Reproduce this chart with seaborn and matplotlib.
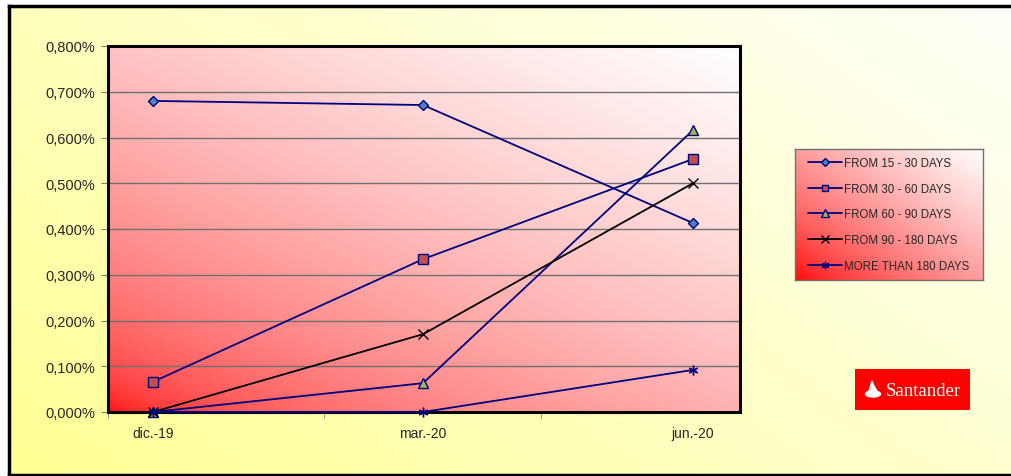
import numpy as np
import matplotlib
matplotlib.use("Agg")
import matplotlib.pyplot as plt
import seaborn as sns
from matplotlib.patches import Rectangle, Ellipse, Polygon
from matplotlib.ticker import FuncFormatter, FixedLocator

# data (in %)
periods = ["dic.-19", "mar.-20", "jun.-20"]
d15_30 = [0.680, 0.671, 0.413]
d30_60 = [0.066, 0.334, 0.553]
d60_90 = [0.000, 0.063, 0.616]
d90_180 = [0.000, 0.170, 0.500]
d180_plus = [0.000, 0.000, 0.092]
labels = ["FROM 15 - 30 DAYS", "FROM 30 - 60 DAYS", "FROM 60 - 90 DAYS",
          "FROM 90 - 180 DAYS", "MORE THAN 180 DAYS"]

sns.set_style("white")
plt.rcParams['font.family'] = ['Liberation Sans', 'DejaVu Sans']

W, H = 1011, 477
fig = plt.figure(figsize=(W / 100, H / 100), dpi=100, facecolor="white")

def fx(px):
    return px / W

def fy(py):
    return 1 - py / H

# outer yellow gradient panel
bg = fig.add_axes([fx(9), fy(476), 1 - fx(9), fy(7) - fy(476)])
gx, gy = np.meshgrid(np.linspace(0, 1, 300), np.linspace(0, 1, 200))
t = np.clip((gx * 0.6 + gy * 0.4), 0, 1)
yellow = np.dstack([np.ones_like(t), np.ones_like(t), 0.58 + 0.40 * t])
bg.imshow(yellow, extent=[0, 1, 0, 1], origin="lower", aspect="auto")
bg.set_xlim(0, 1)
bg.set_ylim(0, 1)
bg.set_xticks([])
bg.set_yticks([])
for s in bg.spines.values():
    s.set_linewidth(2.5)
    s.set_color("black")
bg.spines["right"].set_visible(False)

# main axes
ax = fig.add_axes([fx(108), fy(413), fx(740) - fx(108), fy(47) - fy(413)])
ax.set_xlim(-45 / 270, 2 + 47 / 270)
ax.set_ylim(0, 0.8)

# red-to-white diagonal gradient in plot area
t2 = np.clip((gx * 0.45 + gy * 0.55), 0, 1) ** 0.45
red = np.dstack([np.ones_like(t2), t2, t2])
ax.imshow(red, extent=[ax.get_xlim()[0], ax.get_xlim()[1], 0, 0.8],
          origin="lower", aspect="auto", zorder=0)

for yv in np.arange(0.1, 0.8, 0.1):
    ax.axhline(yv, color="#707070", lw=1.0, zorder=1)

x = np.arange(len(periods))
series = [d15_30, d30_60, d60_90, d90_180, d180_plus]
styles = [
    dict(color="#000080", marker="D", mfc="#4F81BD", mec="#000080", ms=5.5),
    dict(color="#000080", marker="s", mfc="#C0504D", mec="#000080", ms=6.5),
    dict(color="#000080", marker="^", mfc="#9BBB59", mec="#000080", ms=7),
    dict(color="black", marker="x", mfc="black", mec="black", ms=7),
    dict(color="#000080", marker=(6, 2, 0), mfc="#000080", mec="#000080", ms=7),
]
for vals, lab, st in zip(series, labels, styles):
    sns.lineplot(x=x, y=vals, ax=ax, label=lab, color=st["color"], lw=1.3,
                 marker=st["marker"], markerfacecolor=st["mfc"],
                 markeredgecolor=st["mec"], markersize=st["ms"],
                 markeredgewidth=1.0, zorder=3, clip_on=False)

ax.set_xticks(x)
ax.set_xticklabels(periods, fontsize=10)
ax.xaxis.set_minor_locator(FixedLocator([-45 / 270, 0.633, 1.437]))
ax.tick_params(axis="x", which="major", length=0, pad=10)
ax.tick_params(axis="x", which="minor", length=4, color="#808080", direction="out", bottom=True)
ax.set_yticks(np.arange(0, 0.81, 0.1))
ax.yaxis.set_major_formatter(FuncFormatter(lambda v, p: f"{v:.3f}%".replace(".", ",")))
ax.tick_params(axis="y", length=5, color="#808080", direction="out", left=True, labelsize=10.5, pad=4)
for s in ax.spines.values():
    s.set_linewidth(2.2)
    s.set_color("black")
ax.set_xlabel("")
ax.set_ylabel("")

# legend box with gradient
lax = fig.add_axes([fx(795), fy(281), fx(983) - fx(795), fy(150) - fy(281)])
t3 = np.clip((gx * 0.5 + gy * 0.5), 0, 1) ** 0.7
red_leg = np.dstack([np.ones_like(t3), t3, t3])
lax.imshow(red_leg, extent=[0, 1, 0, 1], origin="lower", aspect="auto")
lax.set_xlim(0, 1)
lax.set_ylim(0, 1)
lax.set_xticks([])
lax.set_yticks([])
for s in lax.spines.values():
    s.set_linewidth(1.0)
    s.set_color("#707070")
handles, labs = ax.get_legend_handles_labels()
ax.get_legend().remove()
lax.legend(handles, labs, loc="center left", bbox_to_anchor=(0.07, 0.5),
           frameon=False, fontsize=8.3, handlelength=2.9, handletextpad=0.25,
           labelspacing=1.2, borderaxespad=0.0, borderpad=0.0, markerscale=0.75)

# Santander logo
logo = fig.add_axes([fx(855), fy(411), fx(970) - fx(855), fy(370) - fy(411)])
logo.set_xlim(0, 115)
logo.set_ylim(0, 41)
logo.add_patch(Rectangle((0, 0), 115, 41, color="#FF0000"))
logo.add_patch(Ellipse((18, 16), 15, 6, color="white"))
logo.add_patch(Polygon([[14, 19], [17, 29], [19, 24], [22, 19]], closed=True, color="white"))
logo.text(31, 19.5, "Santander", color="white", fontsize=13.5, family="Liberation Serif",
          va="center", ha="left")
logo.axis("off")

fig.savefig("out.png", dpi=100)
